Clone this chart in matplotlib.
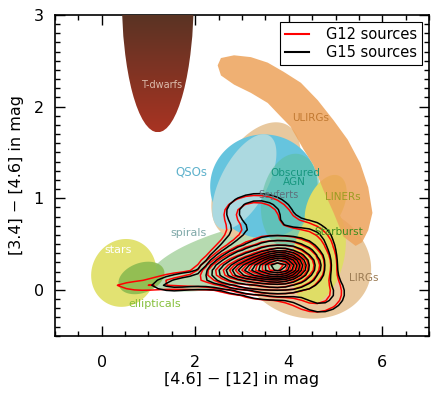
import matplotlib
matplotlib.use("Agg")
import matplotlib.pyplot as plt
import numpy as np
from matplotlib.patches import Polygon, Ellipse
from matplotlib.colors import LinearSegmentedColormap
from matplotlib.ticker import MultipleLocator
from matplotlib.lines import Line2D

# colour regions (Wright et al. 2010 style): centre in mag, semi axes in x-mag units, angle as seen
region_names = ["lirgs", "spirals", "lirgs_up", "qsos", "seyferts", "obscured", "starburst", "liners", "stars", "ellipticals"]
region_cx = [4.34, 2.98, 3.30, 3.47, 3.05, 4.04, 4.64, 4.79, 0.47, 0.85]
region_cy = [0.31, 0.38, 1.20, 1.13, 1.18, 0.98, 0.38, 0.93, 0.185, 0.13]
region_a = [1.45, 2.02, 1.35, 1.15, 1.12, 1.00, 1.06, 0.68, 0.74, 0.51]
region_b = [1.19, 0.60, 0.78, 1.11, 0.50, 0.62, 0.55, 0.38, 0.68, 0.32]
region_ang = [-20, 15, 60, 0, 62, 80, 78, 65, 60, 20]

# ULIRG banana outline
ulirg_x = [2.48, 2.55, 2.83, 3.19, 3.55, 3.89, 4.26, 4.62, 4.96, 5.26, 5.53, 5.70, 5.79, 5.70, 5.57, 5.43,
           5.17, 4.96, 4.74, 4.53, 4.32, 4.04, 3.83, 3.55, 3.19, 2.83, 2.55]
ulirg_y = [2.45, 2.53, 2.56, 2.54, 2.48, 2.38, 2.26, 2.07, 1.85, 1.64, 1.38, 1.12, 0.84, 0.65, 0.52, 0.48,
           0.58, 0.84, 1.09, 1.36, 1.53, 1.78, 1.89, 2.04, 2.15, 2.24, 2.34]

# T dwarf region (ellipse in data units, cut by the top axis)
tdw_cx, tdw_cy, tdw_rx, tdw_ry = 1.2, 3.2, 0.77, 1.48

# source density, built from gaussian blobs: x, y, sx, sy, weight
g15_x = [3.85, 3.35, 2.95, 3.70, 2.10, 1.45, 3.35, 4.70, 4.50]
g15_y = [0.26, 0.23, 0.19, 0.32, 0.10, 0.04, 0.86, -0.05, 0.55]
g15_sx = [0.30, 0.35, 0.30, 0.60, 0.55, 0.30, 0.45, 0.35, 0.30]
g15_sy = [0.095, 0.085, 0.06, 0.20, 0.06, 0.04, 0.13, 0.14, 0.15]
g15_w = [1.00, 0.45, 0.15, 0.035, 0.012, 0.006, 0.012, 0.010, 0.006]

g12_x = [3.80, 3.30, 2.90, 3.65, 2.00, 0.80, 3.30, 4.60, 4.45]
g12_y = [0.26, 0.23, 0.19, 0.32, 0.10, 0.04, 0.84, -0.05, 0.52]
g12_sx = [0.31, 0.36, 0.32, 0.62, 0.60, 0.45, 0.45, 0.38, 0.30]
g12_sy = [0.095, 0.085, 0.06, 0.20, 0.06, 0.04, 0.13, 0.14, 0.15]
g12_w = [1.00, 0.45, 0.15, 0.035, 0.013, 0.007, 0.012, 0.010, 0.005]

levels = [0.0035, 0.007, 0.015, 0.03, 0.07, 0.14, 0.22, 0.31, 0.41, 0.52, 0.64, 0.77, 0.90]

labels = ["T-dwarfs", "ULIRGs", "QSOs", "Obscured\nAGN", "Seyferts", "LINERs", "Starburst", "LIRGs", "spirals", "stars", "ellipticals"]
label_x = [1.28, 4.47, 1.91, 4.13, 3.79, 5.15, 5.07, 5.60, 1.85, 0.36, 1.13]
label_y = [2.24, 1.88, 1.29, 1.23, 1.03, 1.01, 0.63, 0.13, 0.62, 0.43, -0.15]

fill = {"lirgs": ("#e8c89e", 1.0, 1), "spirals": ("#b6dab0", 1.0, 2), "lirgs_up": ("#e8c89e", 1.0, 2.5),
        "qsos": ("#66c4de", 1.0, 3), "seyferts": ("#acd9e0", 1.0, 3.1), "obscured": ("#5cbf9c", 0.55, 3.2),
        "starburst": ("#dfdd66", 1.0, 3.3), "liners": ("#dfdd66", 1.0, 3.3), "stars": ("#e2e272", 1.0, 4),
        "ellipticals": ("#86b84e", 0.85, 4.1)}
lab_style = [("#dcbcac", 7), ("#c27a32", 7.5), ("#5fb2cc", 8.5), ("#16967e", 7.5), ("#5f6f7c", 7),
             ("#9c9c22", 7.5), ("#3c8c1e", 7.5), ("#9a7a52", 7.5), ("#7fa8a8", 8), ("white", 8), ("#86c03c", 8)]

W, H = 436, 394
fig = plt.figure(figsize=(W / 100, H / 100), dpi=100)
ax = fig.add_axes([0.126, 0.148, 0.858, 0.814])
ax.set_xlim(-1, 7)
ax.set_ylim(-0.5, 3)

# ratio of y to x display scale, so the ellipses keep their look
k = (0.814 * H / 3.5) / (0.858 * W / 8.0)


def ellipse_pts(cx, cy, a, b, ang, n=200):
    t = np.linspace(0, 2 * np.pi, n)
    th = np.radians(ang)
    dx = a * np.cos(t) * np.cos(th) - b * np.sin(t) * np.sin(th)
    dy = (a * np.cos(t) * np.sin(th) + b * np.sin(t) * np.cos(th)) / k
    return np.column_stack([cx + dx, cy + dy])


for i, nm in enumerate(region_names):
    col, al, z = fill[nm]
    ax.add_patch(Polygon(ellipse_pts(region_cx[i], region_cy[i], region_a[i], region_b[i], region_ang[i]),
                         closed=True, fc=col, ec="none", alpha=al, zorder=z))

ax.add_patch(Polygon(np.column_stack([ulirg_x, ulirg_y]), closed=True, fc="#eda35a", ec="none",
                     alpha=0.85, zorder=3.5))

# T dwarfs with a brown-to-red gradient
tdw = Ellipse((tdw_cx, tdw_cy), 2 * tdw_rx, 2 * tdw_ry, fc="none", ec="none")
ax.add_patch(tdw)
cm = LinearSegmentedColormap.from_list("td", ["#a83322", "#5a3424"])
grad = np.linspace(0, 1, 100).reshape(-1, 1)
im = ax.imshow(grad, cmap=cm, origin="lower", aspect="auto", zorder=4,
               extent=[tdw_cx - tdw_rx, tdw_cx + tdw_rx, tdw_cy - tdw_ry, 3.0])
im.set_clip_path(tdw)
ax.set_xlim(-1, 7)
ax.set_ylim(-0.5, 3)

# contours on a coarse grid
xg = np.arange(-1, 7.01, 0.17)
yg = np.arange(-0.5, 3.01, 0.055)
XX, YY = np.meshgrid(xg, yg)


def density(xs, ys, sxs, sys_, ws):
    z = np.zeros_like(XX)
    for x0, y0, s1, s2, w in zip(xs, ys, sxs, sys_, ws):
        z += w * np.exp(-0.5 * (((XX - x0) / s1) ** 2 + ((YY - y0) / s2) ** 2))
    return z / z.max()


z12 = density(g12_x, g12_y, g12_sx, g12_sy, g12_w)
z15 = density(g15_x, g15_y, g15_sx, g15_sy, g15_w)
ax.contour(XX, YY, z12, levels=levels, colors="red", linewidths=1.1, zorder=5)
ax.contour(XX, YY, z15, levels=levels, colors="black", linewidths=1.1, zorder=5.1)

for i, t in enumerate(labels):
    c, fs = lab_style[i]
    ax.text(label_x[i], label_y[i], t, color=c, fontsize=fs, ha="center", va="center",
            zorder=6, linespacing=0.9)

ax.xaxis.set_major_locator(MultipleLocator(2))
ax.xaxis.set_minor_locator(MultipleLocator(0.5))
ax.yaxis.set_major_locator(MultipleLocator(1))
ax.yaxis.set_minor_locator(MultipleLocator(0.1))
ax.tick_params(which="both", direction="in", top=True, right=True, labelsize=11.5, width=1)
ax.tick_params(which="major", length=7)
ax.tick_params(which="minor", length=3.5)
ax.tick_params(axis="x", pad=14)
ax.tick_params(axis="y", pad=8)
for s in ax.spines.values():
    s.set_linewidth(1.2)

ax.set_xlabel("[4.6] \u2212 [12] in mag", fontsize=11.5, labelpad=1)
ax.set_ylabel("[3.4] \u2212 [4.6] in mag", fontsize=11.5, labelpad=7)

handles = [Line2D([], [], color="red", lw=1.5), Line2D([], [], color="black", lw=1.5)]
leg = ax.legend(handles, ["G12 sources", "G15 sources"], loc="upper right", fontsize=10.5,
                fancybox=False, framealpha=1, edgecolor="black", borderaxespad=0.5,
                handlelength=1.7, handletextpad=1.1, borderpad=0.35, labelspacing=0.2)
leg.get_frame().set_linewidth(0.8)
leg.set_zorder(10)

fig.savefig("out.png", dpi=100)
